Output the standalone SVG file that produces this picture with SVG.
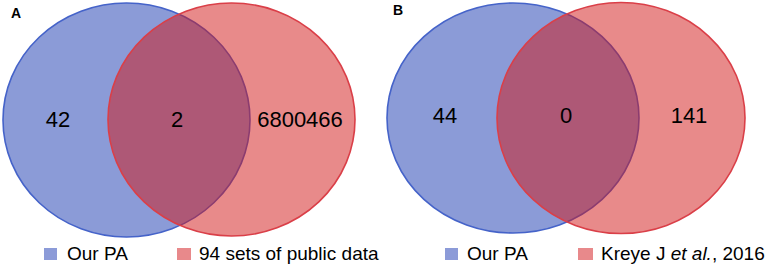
<svg xmlns="http://www.w3.org/2000/svg" width="768" height="266" viewBox="0 0 768 266">
<style>
.blue{fill:rgb(23,55,175);fill-opacity:0.5;stroke:#4563c9;stroke-width:1.6}
.red{fill:rgb(209,21,21);fill-opacity:0.5;stroke:#da3f48;stroke-width:1.6}
.num{font-family:"Liberation Sans",Arial,sans-serif;font-size:22px;fill:#000;text-anchor:middle}
.lab{font-family:"Liberation Sans",Arial,sans-serif;font-size:14px;font-weight:bold;fill:#000}
.leg{font-family:"Liberation Sans",Arial,sans-serif;font-size:19px;fill:#000}
.sqb{fill:#8c9bd8}
.sqr{fill:#e8898b}
</style>
<rect width="768" height="266" fill="#fff"/>
<g id="panelA">
  <text class="lab" x="11" y="18">A</text>
  <g id="A-ourPA"><ellipse class="blue" cx="126.5" cy="120" rx="123.5" ry="117"/></g>
  <g id="A-public"><ellipse class="red" cx="231.5" cy="119.5" rx="123.5" ry="116.5"/></g>
  <text class="num" x="58" y="127">42</text>
  <text class="num" x="177" y="127">2</text>
  <text class="num" x="300" y="127">6800466</text>
  <g id="A-legend">
    <rect class="sqb" x="44" y="248" width="13" height="12"/>
    <text class="leg" x="67" y="260">Our PA</text>
    <rect class="sqr" x="177" y="248" width="14" height="12"/>
    <text class="leg" x="199" y="260">94 sets of public data</text>
  </g>
</g>
<g id="panelB">
  <text class="lab" x="393" y="15">B</text>
  <g id="B-ourPA"><ellipse class="blue" cx="513" cy="118" rx="126" ry="115"/></g>
  <g id="B-kreye"><ellipse class="red" cx="621" cy="118" rx="124" ry="115.5"/></g>
  <text class="num" x="445" y="123">44</text>
  <text class="num" x="566" y="123">0</text>
  <text class="num" x="689" y="123">141</text>
  <g id="B-legend">
    <rect class="sqb" x="445" y="248" width="13" height="12"/>
    <text class="leg" x="467" y="260">Our PA</text>
    <rect class="sqr" x="578" y="248" width="15" height="12"/>
    <text class="leg" x="601" y="260">Kreye J <tspan font-style="italic">et al.</tspan>, 2016</text>
  </g>
</g>
<g id="connectors"/>
</svg>
